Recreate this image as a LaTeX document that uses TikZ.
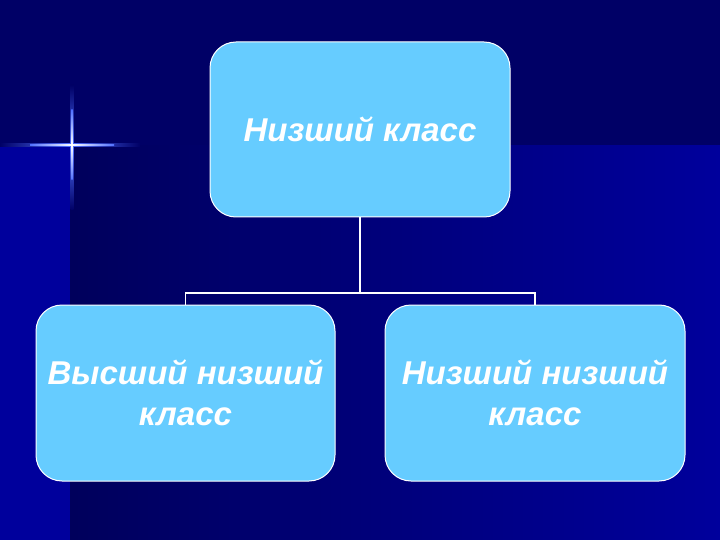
\documentclass[tikz,border=0pt]{standalone}
\usepackage{fontspec}
\setmainfont{Liberation Sans}
\usetikzlibrary{shadings}
\definecolor{bgdark}{HTML}{000066}
\definecolor{bgbright}{HTML}{00009C}
\definecolor{boxfill}{HTML}{66CCFF}
\definecolor{glow}{HTML}{5070FF}
\tikzset{
  classbox/.style={draw=white, line width=1pt, fill=boxfill, rounded corners=26pt,
    minimum width=#1, inner sep=0pt, align=center, text=white,
    font=\fontsize{33}{41}\selectfont\bfseries\itshape},
  classbox/.default=300pt,
  link/.style={draw=white, line width=1.6pt}
}
\begin{document}
\begin{tikzpicture}[x=1pt,y=-1pt]
\useasboundingbox (0,0) rectangle (720,540);
% background
\fill[bgbright] (0,0) rectangle (720,540);
\shade[left color=bgdark!90!black, right color=bgbright] (70,145) rectangle (720,540);
\fill[bgdark] (0,0) rectangle (720,145);
% sparkle
\shade[left color=bgdark, right color=bgdark, middle color=glow] (0,143.5) rectangle (140,146.5);
\shade[top color=bgdark, bottom color=bgdark, middle color=glow] (70.5,85) rectangle (73.5,210);
\shade[left color=glow, right color=glow, middle color=white] (30,144.3) rectangle (114,145.7);
\shade[top color=glow, bottom color=glow, middle color=white] (71.3,110) rectangle (72.7,180);
\fill[white] (72,145) circle (1.6);
% boxes
\node[classbox, minimum height=175pt] (top) at (360,129.5) {Низший класс};
\node[classbox=299pt, minimum height=176pt] (left) at (185.5,393) {Высший низший\\класс};
\node[classbox, minimum height=176pt] (right) at (535,393) {Низший низший\\класс};
% connectors
\coordinate (j) at (360,293);
\draw[link] (top.south) -- (j);
\draw[link] (left.north) |- (j) -| (right.north);
\end{tikzpicture}
\end{document}
